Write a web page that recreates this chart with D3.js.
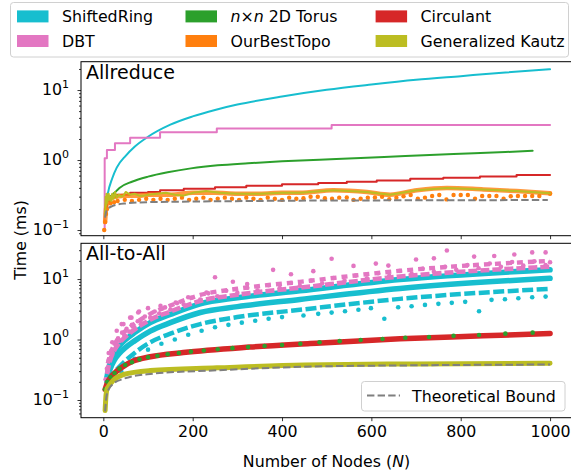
<!DOCTYPE html>
<html><head><meta charset="utf-8">
<script src="https://cdn.jsdelivr.net/npm/d3@7"></script>
<style>
body{margin:0;background:#fff;}
svg{display:block;font-family:"DejaVu Sans",sans-serif;}
</style></head><body>
<svg id="c" width="571" height="470"></svg>
<script>
// ---------- DATA ----------
const xTicks = [0,200,400,600,800,1000];
const yMajor = [0.1,1,10];
const legendNames = ["ShiftedRing","DBT","n×n 2D Torus","OurBestTopo","Circulant","Generalized Kautz"];

// Allreduce panel
const srArN = [4,10,20,30,50,70,100,150,200,250,300,400,500,600,700,800,900,1000];
const srArT = [0.18,0.33,0.55,0.78,1.15,1.55,2.15,3.2,4.2,5.2,6.2,8.1,10.1,12.0,14.0,15.8,17.8,19.8];
const dbtArN = [2,3,8,26,60,127,254,511,1000];
const dbtArT = [0.1,1.06,1.39,1.73,2.08,2.49,2.83,3.16,3.16];
const torArN = [4,9,16,25,36,64,100,144,196,256,324,400,484,576,676,784,900,961];
const torArT = [0.17,0.25,0.3,0.34,0.4,0.49,0.58,0.67,0.76,0.84,0.9,0.96,1.01,1.07,1.14,1.22,1.3,1.36];
const cirArN = [4,8,15,30,60,100,127,180,250,320,400,481,545,612,687,761,843,925,1000];
const cirArT = [0.2,0.26,0.3,0.32,0.34,0.35,0.37,0.39,0.41,0.43,0.45,0.47,0.49,0.51,0.54,0.56,0.58,0.61,0.61];
const obtArN = [4,6,10,15,20,30,50,80,100,150,200,250,300,350,400,440,515,590,642,702,769,851,925,1000];
const obtArT = [0.13,0.2,0.26,0.28,0.29,0.3,0.31,0.31,0.32,0.32,0.34,0.34,0.33,0.33,0.34,0.34,0.37,0.35,0.32,0.37,0.40,0.38,0.36,0.335];
const obtDotN = [2,4,6,8,16,24,32,48,64,80,96,112,128,144,160,176,192,208,224,240,256,272,288,304,320,336,352,368,384,400,416,432,448,464,480,496,512,528,545,560,576,592,608,624,640,656,672,688,704,720,736,752,768,784,800,816,832,848,864,880,896,912,928,944,960,976,1000];
const obtDotT = [0.1,0.13,0.17,0.2,0.24,0.25,0.26,0.27,0.26,0.27,0.28,0.27,0.28,0.27,0.28,0.29,0.27,0.28,0.29,0.27,0.28,0.29,0.28,0.27,0.29,0.28,0.27,0.29,0.28,0.27,0.29,0.28,0.284,0.299,0.299,0.284,0.28,0.29,0.292,0.27,0.28,0.29,0.292,0.299,0.276,0.29,0.303,0.316,0.28,0.29,0.306,0.316,0.274,0.316,0.316,0.316,0.28,0.306,0.306,0.306,0.28,0.304,0.306,0.306,0.306,0.306,0.33];
const gkArN = [4,5,6,7,8,9,10,12,14,16,18,20,23,26,30,35,40,45,50,60,70,80,90,100,120,140,160,180,200,230,260,300,350,400,440,515,590,642,702,769,851,925,1000];
const gkArT = [0.16,0.3,0.22,0.33,0.24,0.31,0.26,0.33,0.27,0.3,0.26,0.33,0.28,0.35,0.29,0.32,0.3,0.31,0.35,0.32,0.33,0.31,0.31,0.32,0.33,0.34,0.32,0.31,0.34,0.36,0.34,0.33,0.33,0.34,0.34,0.37,0.35,0.32,0.37,0.40,0.38,0.36,0.335];
const tbArN = [4,6,10,20,30,50,100,200,400,700,995];
const tbArT = [0.15,0.18,0.2,0.22,0.23,0.24,0.25,0.255,0.262,0.266,0.268];

// All-to-All panel
const srUpN = [8,15,25,37,50,70,105,150,217,300,440,664,1000];
const srUpT = [0.24,0.4,0.6,0.8,1.0,1.3,1.9,2.6,3.9,4.9,6.4,9.8,14.2];
const srLoN = [8,15,25,37,50,70,105,150,217,300,440,664,1000];
const srLoT = [0.2,0.32,0.46,0.6,0.74,0.95,1.38,1.9,2.8,3.5,4.6,7.0,10.3];
const srDaN = [30,50,70,105,150,217,300,440,664,1000];
const srDaT = [0.32,0.45,0.6,0.9,1.25,1.8,2.35,3.1,4.7,6.9];
const srDotN = [40,70,100,130,160,190,220,250,280,310,340,370,400,448,481,511,541,571,599,629,660,690,720,750,780,810,841,869,899,929,960,990];
const srDotT = [0.3,0.48,0.68,0.85,1.0,1.2,1.4,1.6,1.75,1.9,2.05,2.2,2.35,2.49,2.66,2.79,2.94,3.1,3.3,2.2,3.42,3.55,3.74,3.89,4.04,4.2,2.94,4.53,4.63,4.82,5.0,5.13];
const dbtB1N = [8,15,25,37,50,70,105,150,217,300,440,664,1000];
const dbtB1T = [0.27,0.45,0.67,0.9,1.12,1.46,2.13,2.9,4.35,5.5,7.2,11.0,16];
const dbtB2N = [10,15,25,37,50,70,105,150,217,300,440,664,1000];
const dbtB2T = [0.4,0.56,0.84,1.12,1.4,1.82,2.66,3.64,5.45,6.9,9.0,13.7,20];
const dbtA2aN = [5,8,10,12,15,18,21,25,29,33,37,42,47,52,58,64,70,77,85,93,105,115,125,138,150,165,180,197,217,235,255,275,300,322,345,370,395,420,440,465,490,515,540,565,590,615,640,664,690,715,740,765,790,815,840,865,890,915,940,965,990,1000];
const dbtA2aT = [0.22,0.33,0.3,0.45,0.48,0.65,0.6,0.85,0.78,1.05,0.95,1.3,1.15,1.5,1.35,1.75,1.55,2.0,1.85,2.4,2.3,2.9,2.7,3.4,3.1,4.0,3.8,4.9,4.6,5.8,5.2,6.4,5.9,7.2,6.5,7.9,7.1,8.6,7.7,9.4,8.5,10.4,9.4,11.4,10.3,12.5,11.3,13.6,12.2,14.8,13.2,15.9,14.2,17.0,15.1,18.1,16.0,19.1,16.7,19.6,17.0,19.0];
const dbtOutN = [12,20,30,41,45,60,63,78,80,100,128,162,190,231,250,290,322,380,420,470,511,560,610,638,700,740,769,830,875,920,960,990];
const dbtOutT = [0.6,0.9,1.4,1.8,1.8,2.3,2.3,2.8,2.9,3.3,3.6,4.1,5.0,6.0,10.7,9.0,8.3,14.2,12.0,13.5,21.6,16.5,18,16.7,21,22,29.6,23.5,24,25.5,27.6,27.6];
const cirA2aN = [4,10,16,30,45,67,105,179,328,463,664,850,1000];
const cirA2aT = [0.15,0.2,0.235,0.3,0.36,0.44,0.52,0.61,0.75,0.86,1.03,1.15,1.26];
const torA2aN = [4,9,16,25,36,49,64,81,100,121,144,169,196,225,256,289,324,361,400,441,484,529,576,625,676,729,784,841,900,961];
const torA2aT = [0.15,0.2,0.24,0.28,0.33,0.38,0.42,0.47,0.51,0.54,0.57,0.6,0.63,0.66,0.69,0.72,0.75,0.78,0.81,0.85,0.9,0.94,0.98,1.02,1.07,1.1,1.15,1.19,1.25,1.3];
const gkA2aN = [4,6,8,12,22,45,105,254,450,700,1000];
const gkA2aT = [0.067,0.12,0.15,0.17,0.21,0.264,0.307,0.34,0.38,0.395,0.405];
const tbA2aN = [4,6,8,12,22,45,105,254,450,700,1000];
const tbA2aT = [0.065,0.1,0.125,0.15,0.185,0.224,0.27,0.31,0.355,0.375,0.386];

// ---------- STYLE ----------
const C = {sr:"#17becf", dbt:"#e377c2", tor:"#2ca02c", obt:"#ff7f0e", cir:"#d62728", gk:"#bcbd22", tb:"#7f7f7f"};
const FS = 15.8;

const svg = d3.select("#c");
const x = d3.scaleLinear().domain([-50,1050]).range([81,572.4]);
const yT = d3.scaleLog().domain([0.083,25.4]).range([235.7,61.7]);
const yB = d3.scaleLog().domain([0.051,39]).range([417.7,243.3]);

function zip(N,T){return N.map((n,i)=>[n,T[i]]);}
function panel(id,y){
  const r = y.range();
  svg.append("clipPath").attr("id",id).append("rect")
    .attr("x",x.range()[0]).attr("y",r[1]).attr("width",x.range()[1]-x.range()[0]).attr("height",r[0]-r[1]);
  return svg.append("g").attr("clip-path",`url(#${id})`);
}
function drawLine(g,y,N,T,color,w,curve,dash,opacity){
  const p = g.append("path").datum(zip(N,T))
    .attr("d",d3.line().x(d=>x(d[0])).y(d=>y(d[1])).curve(curve||d3.curveMonotoneX))
    .attr("fill","none").attr("stroke",color).attr("stroke-width",w)
    .attr("stroke-linejoin","round").attr("stroke-linecap",dash?"butt":"round");
  if(dash) p.attr("stroke-dasharray",dash);
  if(opacity) p.attr("stroke-opacity",opacity);
  return p;
}
function drawDots(g,y,N,T,color,r){
  g.append("g").selectAll("circle").data(zip(N,T)).join("circle")
    .attr("cx",d=>x(d[0])).attr("cy",d=>y(d[1])).attr("r",r).attr("fill",color);
}

// ---------- TOP PANEL ----------
const gt = panel("clipT",yT);
drawLine(gt,yT,srArN,srArT,C.sr,2);
drawLine(gt,yT,dbtArN,dbtArT,C.dbt,2,d3.curveStepAfter);
drawLine(gt,yT,torArN,torArT,C.tor,2);
drawLine(gt,yT,cirArN,cirArT,C.cir,2,d3.curveStepAfter);
drawLine(gt,yT,obtArN,obtArT,C.obt,4.5,d3.curveMonotoneX,null,0.8);
drawDots(gt,yT,obtDotN,obtDotT,C.obt,2.2);
drawLine(gt,yT,gkArN,gkArT,C.gk,2,d3.curveLinear);
drawLine(gt,yT,tbArN,tbArT,C.tb,2,d3.curveMonotoneX,"7.4,3.2");

// ---------- BOTTOM PANEL ----------
const gb = panel("clipB",yB);
drawLine(gb,yB,srUpN,srUpT,C.sr,5.5);
drawLine(gb,yB,srLoN,srLoT,C.sr,5.5);
drawLine(gb,yB,srDaN,srDaT,C.sr,4.5,d3.curveMonotoneX,"11,3.5");
drawDots(gb,yB,srDotN,srDotT,C.sr,2.3);
drawLine(gb,yB,dbtB1N,dbtB1T,C.dbt,4.6,d3.curveMonotoneX,"9,3");
drawLine(gb,yB,dbtB2N,dbtB2T,C.dbt,4.4,d3.curveMonotoneX,"6,5");
drawDots(gb,yB,dbtA2aN,dbtA2aT,C.dbt,2.3);
drawDots(gb,yB,dbtOutN,dbtOutT,C.dbt,2.3);
drawLine(gb,yB,cirA2aN,cirA2aT,C.cir,5.5);
drawDots(gb,yB,torA2aN,torA2aT,C.tor,2.3);
drawLine(gb,yB,gkA2aN,gkA2aT,C.gk,5);
drawLine(gb,yB,tbA2aN,tbA2aT,C.tb,2,d3.curveMonotoneX,"7.4,3.2");

// ---------- AXES ----------
function minorTicks(y){
  const [a,b]=y.domain(); const out=[];
  for(let e=-3;e<=3;e++) for(let m=2;m<=9;m++){const v=m*Math.pow(10,e); if(v>=a&&v<=b) out.push(v);}
  return out;
}
function yAxis(y){
  const g = svg.append("g").attr("transform",`translate(${x.range()[0]},0)`);
  g.call(d3.axisLeft(y).tickValues(yMajor).tickSize(3.5).tickFormat(""));
  g.append("g").call(d3.axisLeft(y).tickValues(minorTicks(y)).tickSize(2).tickFormat(""));
  g.selectAll(".domain").remove();
  g.selectAll("line").attr("stroke","#000").attr("stroke-width",0.8);
  yMajor.forEach(v=>{
    const e = Math.round(Math.log10(v));
    const t = svg.append("text").attr("x",69).attr("y",y(v)+5.4).attr("text-anchor","end")
      .attr("font-size",FS).attr("fill","#000");
    t.append("tspan").text("10");
    t.append("tspan").attr("dy",-7.9).attr("font-size",11).text(e<0?"\u2212"+(-e):String(e));
  });
}
function xAxis(y,labels){
  const g = svg.append("g").attr("transform",`translate(0,${y.range()[0]})`);
  g.call(d3.axisBottom(x).tickValues(xTicks).tickSize(3.5).tickPadding(5).tickFormat(labels?d3.format("d"):""));
  g.select(".domain").remove();
  g.selectAll("line").attr("stroke","#000").attr("stroke-width",0.8);
  g.selectAll("text").attr("font-size",FS).attr("font-family","DejaVu Sans").attr("fill","#000");
}
[yT,yB].forEach((y,i)=>{
  yAxis(y); xAxis(y,i===1);
  const r=y.range();
  svg.append("rect").attr("x",x.range()[0]).attr("y",r[1]).attr("width",x.range()[1]-x.range()[0])
    .attr("height",r[0]-r[1]).attr("fill","none").attr("stroke","#000").attr("stroke-width",1);
});

svg.append("text").attr("x",86).attr("y",78.5).attr("font-size",19).text("Allreduce");
svg.append("text").attr("x",86).attr("y",260).attr("font-size",19).text("All-to-All");

svg.append("text").attr("transform","translate(25.5,240) rotate(-90)").attr("text-anchor","middle")
  .attr("font-size",FS).text("Time (ms)");
const xl = svg.append("text").attr("x",326.5).attr("y",467).attr("text-anchor","middle").attr("font-size",FS);
xl.append("tspan").text("Number of Nodes (");
xl.append("tspan").attr("font-style","italic").text("N");
xl.append("tspan").text(")");

// ---------- LEGENDS ----------
svg.append("rect").attr("x",10.5).attr("y",2.5).attr("width",558).attr("height",54.5).attr("rx",3)
  .attr("fill","#fff").attr("fill-opacity",0.8).attr("stroke","#d0d0d0").attr("stroke-width",1);
const legCols = [17,185.5,375.6];
const legRows = [16.4,41];
const legColors = [C.sr,C.dbt,C.tor,C.obt,C.cir,C.gk];
legendNames.forEach((name,i)=>{
  const cx = legCols[Math.floor(i/2)], cy = legRows[i%2];
  svg.append("rect").attr("x",cx).attr("y",cy-6).attr("width",31.5).attr("height",12).attr("fill",legColors[i]);
  const t = svg.append("text").attr("x",cx+45).attr("y",cy+5.8).attr("font-size",FS);
  if(name.startsWith("n×n")){
    t.append("tspan").attr("font-style","italic").text("n");
    t.append("tspan").text("×");
    t.append("tspan").attr("font-style","italic").text("n");
    t.append("tspan").text(" 2D Torus");
  } else t.text(name);
});
svg.append("rect").attr("x",361.5).attr("y",381.5).attr("width",203.5).attr("height",29.5).attr("rx",3)
  .attr("fill","#fff").attr("fill-opacity",0.8).attr("stroke","#d0d0d0").attr("stroke-width",1);
svg.append("line").attr("x1",367).attr("x2",400).attr("y1",395.5).attr("y2",395.5)
  .attr("stroke",C.tb).attr("stroke-width",2).attr("stroke-dasharray","7.4,3.2");
svg.append("text").attr("x",412).attr("y",401.5).attr("font-size",FS).text("Theoretical Bound");
</script></body></html>
